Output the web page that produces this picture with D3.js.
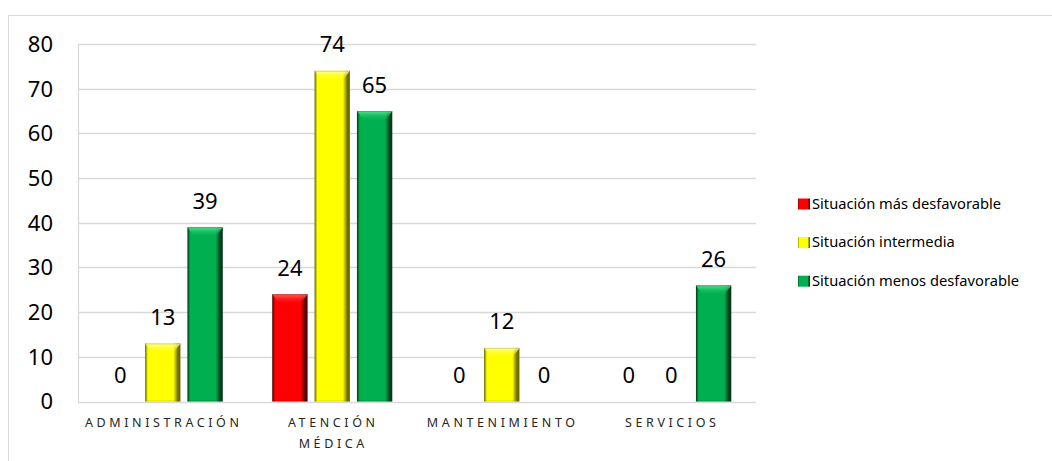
<!DOCTYPE html>
<html><head><meta charset="utf-8">
<script src="https://cdn.jsdelivr.net/npm/d3@7"></script>
<style>body{margin:0;background:#fff}svg{display:block}</style>
</head><body>
<svg id="c" width="1052" height="461"></svg>
<script>
const categories = ["ADMINISTRACIÓN", "ATENCIÓN MÉDICA", "MANTENIMIENTO", "SERVICIOS"];
const categoryLines = [["ADMINISTRACIÓN"], ["ATENCIÓN", "MÉDICA"], ["MANTENIMIENTO"], ["SERVICIOS"]];
const seriesNames = ["Situación más desfavorable", "Situación intermedia", "Situación menos desfavorable"];
const masDesfavorable = [0, 24, 0, 0];
const intermedia = [13, 74, 12, 0];
const menosDesfavorable = [39, 65, 0, 26];
const yTicks = [0, 10, 20, 30, 40, 50, 60, 70, 80];
const seriesValues = [masDesfavorable, intermedia, menosDesfavorable];
const colors = [
  {base:"#ff0000", light:"#ff6a6a", dark:"#5a0000"},
  {base:"#ffff00", light:"#ffffa8", dark:"#6e6e00"},
  {base:"#00b050", light:"#5ae894", dark:"#003d1c"}
];

const svg = d3.select("#c");
const font = "'Noto Sans', 'Open Sans', sans-serif";
const M = {left:78, right:756, top:44, bottom:401.5};

// outer border
svg.append("rect").attr("x",8.5).attr("y",15.5).attr("width",1100).attr("height",500)
  .attr("fill","#fff").attr("stroke","#d9d9d9").attr("stroke-width",1);

const defs = svg.append("defs");
colors.forEach((c,i)=>{
  const g = defs.append("linearGradient").attr("id","g"+i).attr("x1","0").attr("x2","1").attr("y1","0").attr("y2","0");
  [[0,c.dark,0.55],[0.08,c.base,1],[0.5,c.base,1],[0.8,c.base,1],[0.93,c.dark,0.8],[1,c.dark,1]].forEach(s=>{
    g.append("stop").attr("offset",s[0]).attr("stop-color",s[1]).attr("stop-opacity",1);
  });
  const gt = defs.append("linearGradient").attr("id","t"+i).attr("x1","0").attr("x2","0").attr("y1","0").attr("y2","1");
  gt.append("stop").attr("offset",0).attr("stop-color",c.light).attr("stop-opacity",0.95);
  gt.append("stop").attr("offset",1).attr("stop-color",c.base).attr("stop-opacity",0);
});

const x0 = d3.scaleBand().domain(categories).range([M.left, M.right]).padding(0);
const x1 = d3.scaleBand().domain(seriesNames).range([-60, 60]).paddingInner(7/42).paddingOuter(0);
const y = d3.scaleLinear().domain([0,80]).range([M.bottom, M.top]);

// gridlines
svg.append("g").selectAll("line").data(yTicks).join("line")
  .attr("x1",M.left).attr("x2",M.right)
  .attr("y1",d=>Math.round(y(d))+0.5).attr("y2",d=>Math.round(y(d))+0.5)
  .attr("stroke","#d9d9d9").attr("stroke-width",1.3);
svg.append("line").attr("x1",M.left+0.5).attr("x2",M.left+0.5).attr("y1",y(80)).attr("y2",y(0))
  .attr("stroke","#d9d9d9").attr("stroke-width",1.3);

// y labels
svg.append("g").selectAll("text").data(yTicks).join("text")
  .attr("x",53).attr("y",d=>y(d)).attr("dy","0.36em")
  .attr("text-anchor","end").attr("font-family",font).attr("font-size",22).attr("fill","#000")
  .text(d=>d);

// bars
const groups = svg.append("g").selectAll("g").data(categories).join("g")
  .attr("transform",d=>`translate(${x0(d)+x0.bandwidth()/2},0)`);
seriesNames.forEach((s,si)=>{
  groups.each(function(cat,ci){
    const v = seriesValues[si][ci];
    const g = d3.select(this);
    const bx = x1(s), bw = x1.bandwidth();
    const top = y(v);
    if (v>0){
      g.append("rect").attr("x",bx).attr("y",top).attr("width",bw).attr("height",y(0)-top)
        .attr("fill",`url(#g${si})`);
      const bev = 7;
      g.append("path").attr("d",`M${bx},${top}H${bx+bw}L${bx+bw-bev},${top+bev+3}H${bx+bev}Z`)
        .attr("fill",`url(#t${si})`);
      g.append("rect").attr("x",bx+0.5).attr("y",top+0.5).attr("width",bw-1).attr("height",y(0)-top-1)
        .attr("fill","none").attr("stroke",colors[si].dark).attr("stroke-opacity",0.25);
    }
    g.append("text").attr("x",bx+bw/2).attr("y",top-18.5)
      .attr("text-anchor","middle").attr("font-family",font).attr("font-size",22).attr("fill","#000")
      .text(v);
  });
});

// category labels
svg.append("g").selectAll("text").data(categories).join("text")
  .attr("x",d=>x0(d)+x0.bandwidth()/2 + 1).attr("y",427)
  .attr("text-anchor","middle").attr("font-family",font).attr("font-size",12.5)
  .attr("letter-spacing","3.6px").attr("fill","#262626")
  .each(function(d,i){
    const t = d3.select(this);
    categoryLines[i].forEach((ln,li)=>{
      t.append("tspan").attr("x",x0(d)+x0.bandwidth()/2 + 1).attr("dy",li===0?0:21).text(ln);
    });
  });

// legend
const leg = svg.append("g").selectAll("g").data(seriesNames).join("g")
  .attr("transform",(d,i)=>`translate(798,${203.5+i*38.6})`);
leg.append("rect").attr("x",0).attr("y",-5).attr("width",12).attr("height",11)
  .attr("fill",(d,i)=>`url(#g${i})`);
leg.append("text").attr("x",14).attr("y",0).attr("dy","0.36em")
  .attr("font-family",font).attr("font-size",14.7).attr("fill","#000").text(d=>d);
</script>
</body></html>
